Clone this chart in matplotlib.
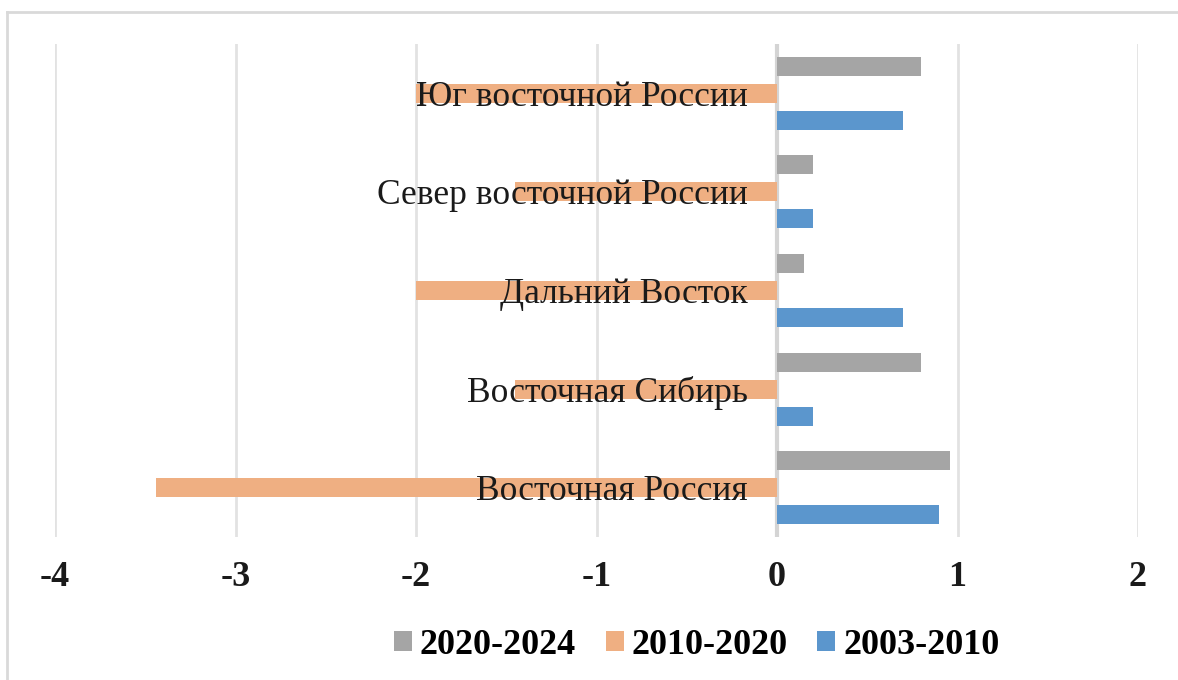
import matplotlib
matplotlib.use('Agg')
import matplotlib.pyplot as plt
import matplotlib.transforms as mtransforms
from matplotlib.lines import Line2D
import numpy as np

# data, top to bottom as shown
regions = ["Юг восточной России", "Север восточной России", "Дальний Восток",
           "Восточная Сибирь", "Восточная Россия"]
series_names = ["2020-2024", "2010-2020", "2003-2010"]
v_2020_2024 = [0.80, 0.20, 0.15, 0.80, 0.96]
v_2010_2020 = [-2.00, -1.45, -2.00, -1.45, -3.44]
v_2003_2010 = [0.70, 0.20, 0.70, 0.20, 0.90]
x_ticks = [-4, -3, -2, -1, 0, 1, 2]

colors = ["#A5A5A5", "#EFAF82", "#5B96CD"]
serif = "Liberation Serif"

fig = plt.figure(figsize=(11.78, 6.8), dpi=100)
ax = fig.add_axes([55 / 1178, 1 - 537 / 680, (1138 - 55) / 1178, (537 - 44) / 680])

y = np.arange(len(regions))
bh = 0.193
off = 0.274
for vals, col, dy, name in zip([v_2020_2024, v_2010_2020, v_2003_2010], colors,
                               [-off, 0, off], series_names):
    ax.barh(y + dy, vals, height=bh, color=col, label=name, zorder=3)

ax.set_xlim(-4, 2)
ax.set_ylim(len(regions) - 0.5, -0.5)
ax.set_xticks(x_ticks)
ax.set_xticklabels([str(t) for t in x_ticks], fontfamily=serif,
                   fontweight='bold', fontsize=26, color='#1a1a1a')
ax.tick_params(axis='x', length=0, pad=17)
ax.set_yticks([])
for s in ax.spines.values():
    s.set_visible(False)
ax.grid(axis='x', color='#E2E2E2', linewidth=2, zorder=0)
ax.axvline(0, color='#D4D4D4', linewidth=3, zorder=2)

# category labels placed just left of zero, over the bars
trans = mtransforms.offset_copy(ax.transData, fig=fig, x=-29, y=0, units='dots')
for yi, name in zip(y, regions):
    ax.text(0, yi, name, transform=trans, ha='right', va='center_baseline',
            fontfamily=serif, fontsize=25.5, color='#1a1a1a', zorder=4)

handles, labels = ax.get_legend_handles_labels()
fig.legend(handles, labels, loc='center', bbox_to_anchor=(0.5915, 0.051), ncol=3,
           frameon=False, handlelength=0.5, handleheight=0.5, handletextpad=0.22,
           columnspacing=0.82, prop={'family': serif, 'weight': 'bold', 'size': 26})

# chart border (only top and left visible)
fig.add_artist(Line2D([7 / 1178, 1], [1 - 12 / 680, 1 - 12 / 680],
                      transform=fig.transFigure, color='#D9D9D9', linewidth=2))
fig.add_artist(Line2D([7 / 1178, 7 / 1178], [0, 1 - 12 / 680],
                      transform=fig.transFigure, color='#D9D9D9', linewidth=2))

fig.savefig("out.png", dpi=100)
plt.close(fig)
